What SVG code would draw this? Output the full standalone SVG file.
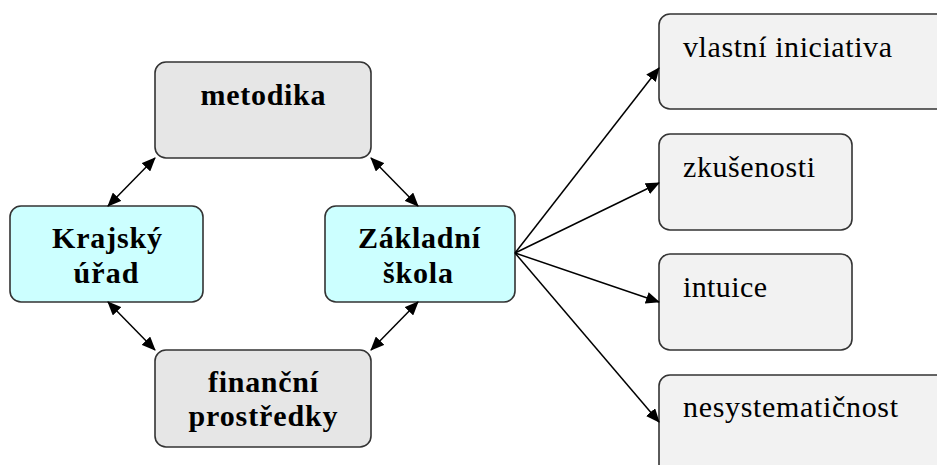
<svg xmlns="http://www.w3.org/2000/svg" width="937" height="465" viewBox="0 0 937 465">
<defs>
<marker id="ah" markerUnits="userSpaceOnUse" markerWidth="14" markerHeight="12" refX="13" refY="6" orient="auto-start-reverse" viewBox="0 0 14 12">
<path d="M0,0 L14,6 L0,12 Z" fill="#000"/>
</marker>
<style>
.box{stroke:#333;stroke-width:1.6}
.gray{fill:#e6e6e6}
.cyan{fill:#ccffff}
.light{fill:#f2f2f2}
.bt{font-family:"Liberation Serif",serif;font-weight:bold;font-size:30px;fill:#000;text-anchor:middle}
.rt{font-family:"Liberation Serif",serif;font-size:30px;fill:#000}
.con{stroke:#000;stroke-width:1.5;fill:none}
</style>
</defs>
<rect width="937" height="465" fill="#fff"/>
<g id="metodika">
<rect class="box gray" x="155" y="62" width="216" height="96" rx="11"/>
<text class="bt" x="263" y="105" textLength="125">metodika</text>
</g>
<g id="krajsky-urad">
<rect class="box cyan" x="10" y="206" width="193" height="96" rx="11"/>
<text class="bt" x="107" y="248" textLength="110">Krajský</text>
<text class="bt" x="106" y="283" textLength="65">úřad</text>
</g>
<g id="zakladni-skola">
<rect class="box cyan" x="325" y="206" width="190" height="96" rx="11"/>
<text class="bt" x="419" y="248" textLength="122">Základní</text>
<text class="bt" x="418" y="283" textLength="70">škola</text>
</g>
<g id="financni-prostredky">
<rect class="box gray" x="155" y="350" width="216" height="97" rx="11"/>
<text class="bt" x="263" y="392" textLength="110">finanční</text>
<text class="bt" x="263" y="426" textLength="149">prostředky</text>
</g>
<g id="vlastni-iniciativa">
<rect class="box light" x="659" y="14" width="300" height="95" rx="11"/>
<text class="rt" x="683" y="57" textLength="209">vlastní iniciativa</text>
</g>
<g id="zkusenosti">
<rect class="box light" x="659" y="134" width="193" height="96" rx="11"/>
<text class="rt" x="683" y="177" textLength="132">zkušenosti</text>
</g>
<g id="intuice">
<rect class="box light" x="659" y="254" width="193" height="96" rx="11"/>
<text class="rt" x="683" y="297" textLength="84">intuice</text>
</g>
<g id="nesystematicnost">
<rect class="box light" x="659" y="375" width="300" height="100" rx="11"/>
<text class="rt" x="683" y="417" textLength="215">nesystematičnost</text>
</g>
<g id="connectors">
<line class="con" x1="108" y1="206" x2="155" y2="158" marker-start="url(#ah)" marker-end="url(#ah)"/>
<line class="con" x1="418" y1="206" x2="371" y2="158" marker-start="url(#ah)" marker-end="url(#ah)"/>
<line class="con" x1="108" y1="302" x2="155" y2="350" marker-start="url(#ah)" marker-end="url(#ah)"/>
<line class="con" x1="418" y1="302" x2="371" y2="350" marker-start="url(#ah)" marker-end="url(#ah)"/>
<line class="con" x1="515" y1="253" x2="659" y2="68" marker-end="url(#ah)"/>
<line class="con" x1="515" y1="253" x2="659" y2="183" marker-end="url(#ah)"/>
<line class="con" x1="515" y1="253" x2="659" y2="302" marker-end="url(#ah)"/>
<line class="con" x1="515" y1="253" x2="659" y2="422" marker-end="url(#ah)"/>
</g>
</svg>
